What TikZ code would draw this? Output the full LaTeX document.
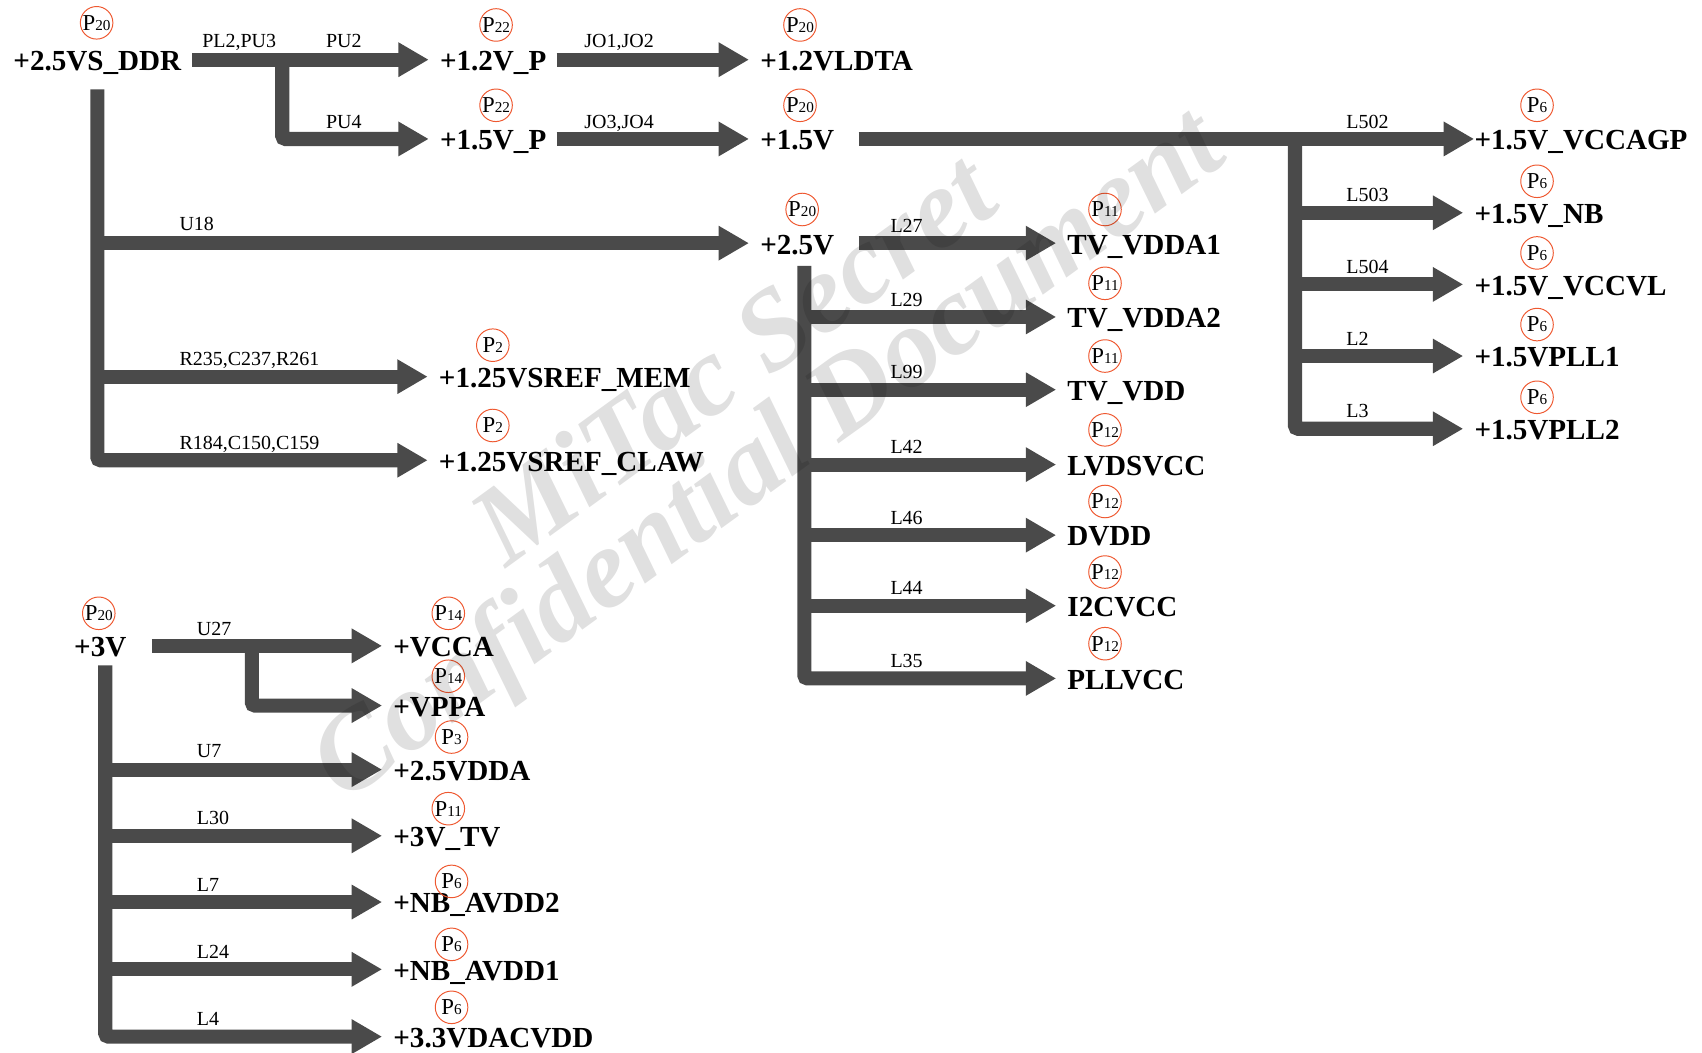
\documentclass[tikz,border=0pt]{standalone}
\usepackage{fontspec}
\setmainfont{Liberation Serif}
\usetikzlibrary{arrows.meta}
\definecolor{wire}{RGB}{74,74,74}
\definecolor{pagering}{RGB}{238,88,48}

\begin{document}
\begin{tikzpicture}[x=0.5pt, y=-0.5pt, >={Triangle[length=14pt,width=15pt]}, net/.style={anchor=west, inner sep=0pt, text height=10pt, text depth=0pt, font=\fontsize{13.4}{14}\selectfont\bfseries}, part/.style={anchor=base west, inner sep=0pt, font=\fontsize{9.2}{10}\selectfont}, pg/.style={circle, draw=pagering, line width=0.45pt, minimum size=15pt, inner sep=0pt, font=\fontsize{10.5}{11}\selectfont}, bus/.style={->, draw=wire, line width=6.5pt, shorten >=5pt, rounded corners=1.5pt}, wmark/.style={rotate=36, text=black, text opacity=0.12, inner sep=0pt, font=\fontsize{52}{52}\selectfont\bfseries\itshape}]
\useasboundingbox (0,0) rectangle (1568,970);
% +2.5VS_DDR tree
\node[net] (ddr) at (12,55) {+2.5VS\_DDR};
\node[net] (v12p) at (405,55) {+1.2V\_P};
\node[net] (v15p) at (405,128) {+1.5V\_P};
\node[net] (vldta) at (700,55) {+1.2VLDTA};
\node[net] (v15) at (700,128) {+1.5V};
\node[net] (v25) at (700,224) {+2.5V};
\node[net] (mem) at (404,347) {+1.25VSREF\_MEM};
\node[net] (claw) at (404,424) {+1.25VSREF\_CLAW};
\node[net] (agp) at (1358,128) {+1.5V\_VCCAGP};
\node[net] (nb) at (1358,196) {+1.5V\_NB};
\node[net] (vccvl) at (1358,262) {+1.5V\_VCCVL};
\node[net] (pll1) at (1358,328) {+1.5VPLL1};
\node[net] (pll2) at (1358,395) {+1.5VPLL2};
\node[net] (vdda1) at (983,224) {TV\_VDDA1};
\node[net] (vdda2) at (983,292) {TV\_VDDA2};
\node[net] (tvvdd) at (983,359) {TV\_VDD};
\node[net] (lvds) at (983,428) {LVDSVCC};
\node[net] (dvdd) at (983,493) {DVDD};
\node[net] (i2c) at (983,558) {I2CVCC};
\node[net] (pllvcc) at (983,625) {PLLVCC};
\draw[bus] ([xshift=5pt]ddr.east) -- (v12p.west);
\coordinate (pu3) at (260,55);
\draw[bus] (pu3) |- (v15p.west);
\draw[bus] ([xshift=4.5pt]v12p.east) -- (vldta.west);
\draw[bus] ([xshift=4.5pt]v15p.east) -- (v15.west);
\draw[bus, shorten >=0pt] ([xshift=11pt]v15.east) -- (agp.west);
\coordinate (l5) at (1193,128);
\draw[bus] (l5) |- (pll2.west);
\draw[bus] (l5 |- nb.west) -- (nb.west);
\draw[bus] (l5 |- vccvl.west) -- (vccvl.west);
\draw[bus] (l5 |- pll1.west) -- (pll1.west);
\draw[bus] ([yshift=-8.5pt]ddr.south) |- (claw.west);
\draw[bus] (ddr.south |- v25.west) -- (v25.west);
\draw[bus] (ddr.south |- mem.west) -- (mem.west);
\draw[bus] ([xshift=11pt]v25.east) -- (vdda1.west);
\coordinate (t25) at (741,245);
\draw[bus] (t25) |- (pllvcc.west);
\draw[bus] (t25 |- vdda2.west) -- (vdda2.west);
\draw[bus] (t25 |- tvvdd.west) -- (tvvdd.west);
\draw[bus] (t25 |- lvds.west) -- (lvds.west);
\draw[bus] (t25 |- dvdd.west) -- (dvdd.west);
\draw[bus] (t25 |- i2c.west) -- (i2c.west);
% +3V tree
\node[net] (v3) at (68,595) {+3V};
\node[net] (vcca) at (362,595) {+VCCA};
\node[net] (vppa) at (362,650) {+VPPA};
\node[net] (vdda25) at (362,709) {+2.5VDDA};
\node[net] (tv3) at (362,770) {+3V\_TV};
\node[net] (avdd2) at (362,831) {+NB\_AVDD2};
\node[net] (avdd1) at (362,893) {+NB\_AVDD1};
\node[net] (dacvdd) at (362,955) {+3.3VDACVDD};
\draw[bus] ([xshift=11.5pt]v3.east) -- (vcca.west);
\coordinate (u27) at (232,595);
\draw[bus] (u27) |- (vppa.west);
\coordinate (t3) at (97,613);
\draw[bus] (t3) |- (dacvdd.west);
\draw[bus] (t3 |- vdda25.west) -- (vdda25.west);
\draw[bus] (t3 |- tv3.west) -- (tv3.west);
\draw[bus] (t3 |- avdd2.west) -- (avdd2.west);
\draw[bus] (t3 |- avdd1.west) -- (avdd1.west);
% part labels
\node[part] (lpl2) at (186,44) {PL2,PU3};
\node[part] (lpu2) at (300,44) {PU2};
\node[part] (lpu4) at (300,118) {PU4};
\node[part] (ljo1) at (538,44) {JO1,JO2};
\node[part] (ljo3) at (538,118) {JO3,JO4};
\node[part] (l502) at (1240,118) {L502};
\node[part] (l503) at (1240,186) {L503};
\node[part] (l504) at (1240,252) {L504};
\node[part] (ll2) at (1240,318) {L2};
\node[part] (ll3) at (1240,385) {L3};
\node[part] (lu18) at (165,212) {U18};
\node[part] (lr235) at (165,337) {R235,C237,R261};
\node[part] (lr184) at (165,414) {R184,C150,C159};
\node[part] (ll27) at (820,214) {L27};
\node[part] (ll29) at (820,282) {L29};
\node[part] (ll99) at (820,349) {L99};
\node[part] (ll42) at (820,418) {L42};
\node[part] (ll46) at (820,483) {L46};
\node[part] (ll44) at (820,548) {L44};
\node[part] (ll35) at (820,615) {L35};
\node[part] (lu27) at (181,585) {U27};
\node[part] (lu7) at (181,698) {U7};
\node[part] (ll30) at (181,760) {L30};
\node[part] (ll7) at (181,821) {L7};
\node[part] (ll24) at (181,883) {L24};
\node[part] (ll4) at (181,945) {L4};
% page marks
\node[pg] (pg1) at (89,21) {P{\scriptsize 20}};
\node[pg] (pg2) at (457,23) {P{\scriptsize 22}};
\node[pg] (pg3) at (457,97) {P{\scriptsize 22}};
\node[pg] (pg4) at (737,23) {P{\scriptsize 20}};
\node[pg] (pg5) at (737,97) {P{\scriptsize 20}};
\node[pg] (pg6) at (739,193) {P{\scriptsize 20}};
\node[pg] (pg7) at (454,318) {P{\scriptsize 2}};
\node[pg] (pg8) at (454,392) {P{\scriptsize 2}};
\node[pg] (pg9) at (1416,97) {P{\scriptsize 6}};
\node[pg] (pg10) at (1416,167) {P{\scriptsize 6}};
\node[pg] (pg11) at (1416,233) {P{\scriptsize 6}};
\node[pg] (pg12) at (1416,299) {P{\scriptsize 6}};
\node[pg] (pg13) at (1416,366) {P{\scriptsize 6}};
\node[pg] (pg14) at (1018,193) {P{\scriptsize 11}};
\node[pg] (pg15) at (1018,261) {P{\scriptsize 11}};
\node[pg] (pg16) at (1018,328) {P{\scriptsize 11}};
\node[pg] (pg17) at (1018,396) {P{\scriptsize 12}};
\node[pg] (pg18) at (1018,462) {P{\scriptsize 12}};
\node[pg] (pg19) at (1018,527) {P{\scriptsize 12}};
\node[pg] (pg20) at (1018,593) {P{\scriptsize 12}};
\node[pg] (pg21) at (91,565) {P{\scriptsize 20}};
\node[pg] (pg22) at (413,565) {P{\scriptsize 14}};
\node[pg] (pg23) at (413,623) {P{\scriptsize 14}};
\node[pg] (pg24) at (416,679) {P{\scriptsize 3}};
\node[pg] (pg25) at (413,745) {P{\scriptsize 11}};
\node[pg] (pg26) at (416,812) {P{\scriptsize 6}};
\node[pg] (pg27) at (416,870) {P{\scriptsize 6}};
\node[pg] (pg28) at (416,928) {P{\scriptsize 6}};
% watermark
\node[wmark] (wm1) at (674,329) {MiTac Secret};
\node[wmark] (wm2) at (710,423) {Confidential Document};
\end{tikzpicture}
\end{document}
